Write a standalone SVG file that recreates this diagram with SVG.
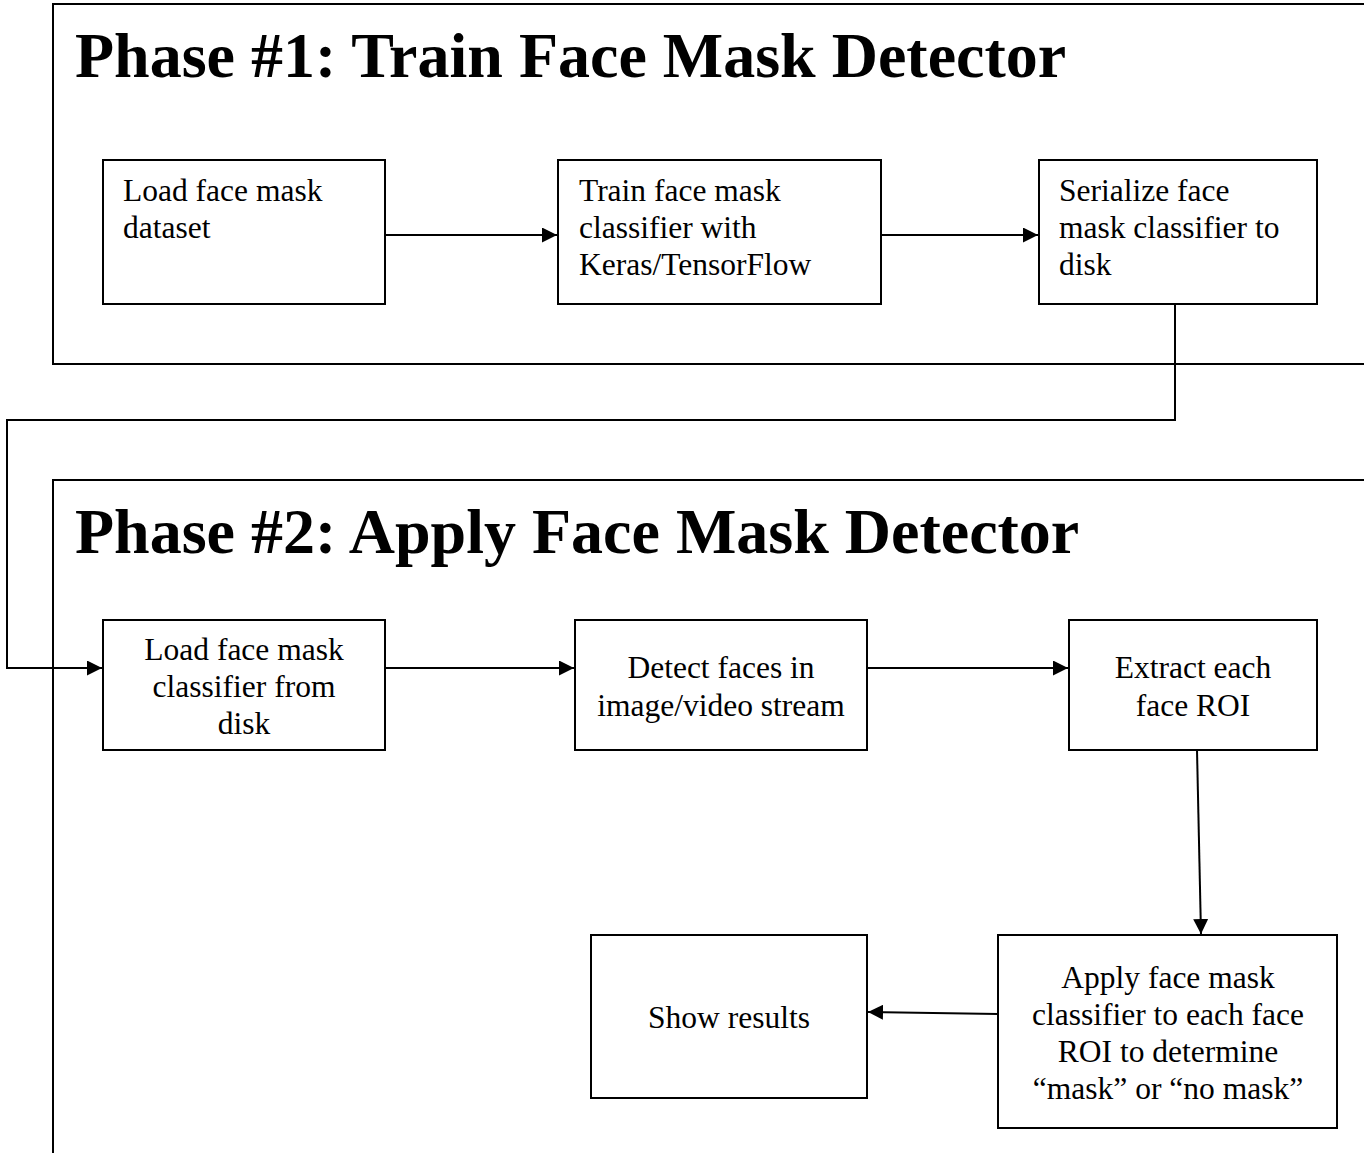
<svg xmlns="http://www.w3.org/2000/svg" width="1364" height="1153" viewBox="0 0 1364 1153">
<style>
.frame{fill:none;stroke:#000;stroke-width:2}
.box{fill:#fff;stroke:#000;stroke-width:2}
.title{font-family:"Liberation Serif","Times New Roman",serif;font-weight:bold;font-size:64px;fill:#000}
.t{font-family:"Liberation Serif","Times New Roman",serif;font-size:31.5px;fill:#000}
.c{text-anchor:middle}
.conn{fill:none;stroke:#000;stroke-width:2}
</style>
<defs>
<marker id="ah" viewBox="0 0 10 10" refX="10" refY="5" markerWidth="15" markerHeight="15" markerUnits="userSpaceOnUse" orient="auto">
<path d="M0,0 L10,5 L0,10 z" fill="#000"/>
</marker>
</defs>
<rect width="1364" height="1153" fill="#fff"/>
<g id="phase1">
<rect class="frame" x="53" y="4" width="1330" height="360"/>
<text class="title" x="75" y="77">Phase #1: Train Face Mask Detector</text>
</g>
<g id="phase2">
<rect class="frame" x="53" y="480" width="1330" height="700"/>
<text class="title" x="75" y="553">Phase #2: Apply Face Mask Detector</text>
</g>
<g id="connectors">
<path class="conn" d="M1175,304 V420 H7 V668 H102" marker-end="url(#ah)"/>
<line class="conn" x1="385" y1="235" x2="557" y2="235" marker-end="url(#ah)"/>
<line class="conn" x1="881" y1="235" x2="1038" y2="235" marker-end="url(#ah)"/>
<line class="conn" x1="385" y1="668" x2="574" y2="668" marker-end="url(#ah)"/>
<line class="conn" x1="867" y1="668" x2="1068" y2="668" marker-end="url(#ah)"/>
<line class="conn" x1="1197" y1="750" x2="1201" y2="934" marker-end="url(#ah)"/>
<line class="conn" x1="998" y1="1014" x2="868" y2="1012" marker-end="url(#ah)"/>
</g>
<g id="n1">
<rect class="box" x="103" y="160" width="282" height="144"/>
<text class="t" x="123" y="201">Load face mask</text>
<text class="t" x="123" y="238">dataset</text>
</g>
<g id="n2">
<rect class="box" x="558" y="160" width="323" height="144"/>
<text class="t" x="579" y="201">Train face mask</text>
<text class="t" x="579" y="238">classifier with</text>
<text class="t" x="579" y="275">Keras/TensorFlow</text>
</g>
<g id="n3">
<rect class="box" x="1039" y="160" width="278" height="144"/>
<text class="t" x="1059" y="201">Serialize face</text>
<text class="t" x="1059" y="238">mask classifier to</text>
<text class="t" x="1059" y="275">disk</text>
</g>
<g id="n4">
<rect class="box" x="103" y="620" width="282" height="130"/>
<text class="t c" x="244" y="660">Load face mask</text>
<text class="t c" x="244" y="697">classifier from</text>
<text class="t c" x="244" y="734">disk</text>
</g>
<g id="n5">
<rect class="box" x="575" y="620" width="292" height="130"/>
<text class="t c" x="721" y="678">Detect faces in</text>
<text class="t c" x="721" y="716">image/video stream</text>
</g>
<g id="n6">
<rect class="box" x="1069" y="620" width="248" height="130"/>
<text class="t c" x="1193" y="678">Extract each</text>
<text class="t c" x="1193" y="716">face ROI</text>
</g>
<g id="n7">
<rect class="box" x="998" y="935" width="339" height="193"/>
<text class="t c" x="1168" y="988">Apply face mask</text>
<text class="t c" x="1168" y="1025">classifier to each face</text>
<text class="t c" x="1168" y="1062">ROI to determine</text>
<text class="t c" x="1168" y="1099">“mask” or “no mask”</text>
</g>
<g id="n8">
<rect class="box" x="591" y="935" width="276" height="163"/>
<text class="t c" x="729" y="1028">Show results</text>
</g>
</svg>
